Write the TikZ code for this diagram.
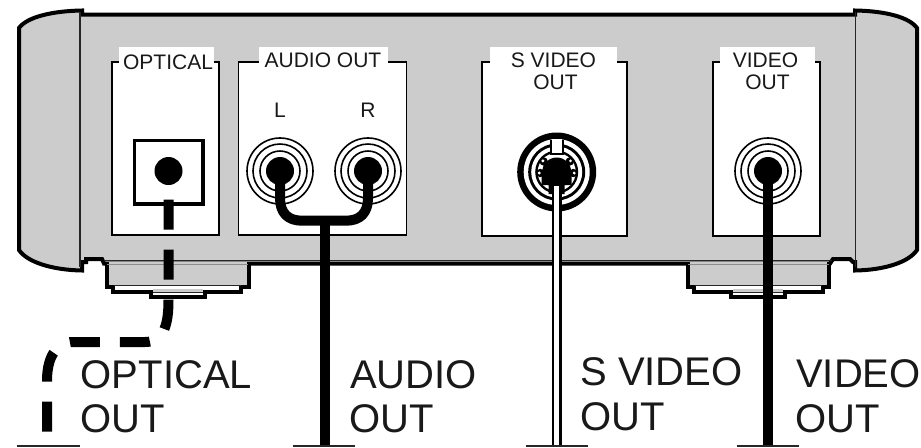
\documentclass[tikz,border=0pt]{standalone}
\usepackage{fontspec}
\setmainfont{Liberation Sans}
\definecolor{bodygray}{HTML}{CCCCCC}
\tikzset{
  bodyline/.style={draw=black,line width=3pt,line join=miter,fill=bodygray},
  thinline/.style={draw=black!85,line width=0.9pt},
  faintline/.style={draw=black!45,line width=0.7pt},
  panel/.style={draw=black,line width=1.4pt,fill=white},
  labelpatch/.style={fill=white,draw=none},
  smalltext/.style={font=\fontsize{15.75}{16.5}\selectfont,inner sep=0pt,align=center,text=black!90},
  bigtext/.style={font=\fontsize{30}{33.5}\selectfont,inner sep=0pt,anchor=base west,align=left,text=black!90},
  ringline/.style={draw=black,line width=1.2pt,fill=white},
  cable/.style={draw=black,line width=7.5pt},
  terminal/.style={fill=black!85,draw=none,inner sep=0pt,minimum width=46.5pt,minimum height=1.6pt},
  jackcore/.style={circle,fill=black,draw=none,inner sep=0pt,minimum size=21pt}
}
\newcommand{\rcajack}[2]{%
  \draw[ringline] (#1) circle[radius=33];
  \draw[ringline] (#1) circle[radius=27];
  \draw[ringline] (#1) circle[radius=20];
  \node[jackcore] (#2) at (#1) {};
}
\begin{document}
\begin{tikzpicture}[x=0.75pt,y=-0.75pt]
\useasboundingbox (0,0) rectangle (921,447);
% feet, behind the chassis line
\draw[bodyline,fill=white]
  (106.7,263.5) -- (106.7,287.3) -- (113,287.3) -- (113,292) -- (150.5,292) -- (150.5,297)
  -- (204.5,297) -- (204.5,292) -- (241,292) -- (241,287.3) -- (248.5,287.3) -- (248.5,263.5);
\draw[bodyline,fill=white]
  (687.7,263.5) -- (687.7,287.3) -- (693.7,287.3) -- (693.7,292) -- (731,292) -- (731,297)
  -- (785,297) -- (785,292) -- (822.5,292) -- (822.5,287.3) -- (829,287.3) -- (829,263.5);
% chassis
\draw[bodyline]
  (82,14.5) -- (82,10.5) .. controls (52,11) and (27,17) .. (19,28)
  -- (19,250) .. controls (27,262) and (52,270) .. (82,270.5)
  -- (82,262) -- (86,262) -- (86,259) -- (102,259) -- (104,263.5)
  -- (830,263.5) -- (833,259) -- (850,259) -- (853,262) -- (855,262)
  -- (855,270.5) .. controls (885,270) and (909,262) .. (917,250)
  -- (917,28) .. controls (909,17) and (885,11) .. (855,10.5) -- (855,14.5) -- cycle;
% foot interiors
\fill[bodygray] (108.7,261.5) rectangle (246.5,285.2);
\fill[bodygray] (152.5,288.5) rectangle (202.5,292);
\draw[faintline] (107,264) -- (248,264);
\draw[thinline] (114,285.7) -- (241,285.7);
\draw[thinline] (152.5,292.6) -- (202.5,292.6);
\fill[bodygray] (689.7,261.5) rectangle (827,285.2);
\fill[bodygray] (733,288.5) rectangle (783,292);
\draw[faintline] (688,264) -- (829,264);
\draw[thinline] (694.5,285.7) -- (822,285.7);
\draw[thinline] (733,292.6) -- (783,292.6);
\draw[thinline] (80,12) -- (80,267);
\draw[thinline] (855.7,12) -- (855.7,267);
\draw[thinline] (104,260.5) -- (832,260.5);
% panels
\draw[panel] (112,62) rectangle (219,235);
\draw[panel] (238.5,62) rectangle (406.5,235);
\draw[panel] (482,62) rectangle (627,236);
\draw[panel] (713,62) rectangle (820,236);
\fill[labelpatch] (119,47) rectangle (214,66);
\fill[labelpatch] (259,47) rectangle (388,66);
\fill[labelpatch] (490,47) rectangle (617,66);
\fill[labelpatch] (720,47) rectangle (815,66);
\node[smalltext] (lopt) at (168,62.5) {OPTICAL};
\node[smalltext] (laud) at (323,60) {AUDIO OUT};
\node[smalltext] (lsv) at (553.5,71) {S VIDEO\\\hspace*{3pt}OUT};
\node[smalltext] (lvid) at (765.5,71) {VIDEO\\\hspace*{3pt}OUT};
\node[smalltext] (ll) at (280,110.5) {L};
\node[smalltext] (lr) at (368,110.5) {R};
% optical jack
\draw[draw=black,line width=2.3pt,fill=white] (134.5,140.5) rectangle (203,204);
\node[jackcore] (jopt) at (168.5,171) {};
% RCA jacks
\rcajack{280,171}{jackL}
\rcajack{368,171}{jackR}
\rcajack{768,171}{jackV}
% S video jack
\coordinate (jackS) at (556.7,172);
\begin{scope}[shift={(jackS)}]
  \fill[black] (0,0) circle[radius=39.5];
  \fill[white] (0,0) circle[radius=33];
  \fill[black] (0,0) circle[radius=28.5];
  \fill[white] (0,0) circle[radius=25.5];
  \fill[black] (0,0) circle[radius=21.5];
  \fill[white] (0,0) circle[radius=19];
  \fill[black] (-7,-32) rectangle (7,-17);
  \fill[white] (-5,-33.5) rectangle (5,-19);
  \fill[black] (-15,4) -- (-15,13) -- (-8,13) -- (-8,22) -- (8,22) -- (8,13) -- (15,13) -- (15,4) -- cycle;
  \fill[black] (0,0) circle[radius=14.5];
  \foreach \px/\py in {-13/-10.5,13/-10.5,-16.5/1,16.5/1}{
    \fill[black] (\px,\py) circle[radius=4.2];
    \fill[white] (\px*1.06,\py*1.06) circle[radius=1.6];
  }
\end{scope}
% terminals
\node[terminal,minimum width=47pt] (tO) at (48.5,446) {};
\node[terminal] (tA) at (324,446) {};
\node[terminal] (tS) at (557,446) {};
\node[terminal] (tV) at (768,446) {};
% cables
\draw[cable,dash pattern=on 22.5pt off 15pt]
  (jopt.center) ++(0,28.5) -- (168.5,300) .. controls (168.5,322) and (165,342) .. (145,342)
  -- (71,342) .. controls (60,343) and (47,352) .. (47,381) -- (tO.north -| 47,0) ;
\draw[cable,line join=round] (jackL.center) -- (280,198) .. controls (280,213) and (288,220.7) .. (302,220.7)
  -- (346,220.7) .. controls (360,220.7) and (368,213) .. (368,198) -- (jackR.center);
\draw[cable] (324.5,220.7) -- (tA.north -| 324.5,0);
\draw[cable] (jackV.center) -- (tV.north);
\draw[draw=black,line width=7.5pt] (jackS)++(0,13) -- (tS.north -| jackS);
\draw[draw=white,line width=4pt] (jackS)++(0,14) -- (tS.north -| jackS);
% bottom labels
\node[bigtext] (bo1) at (80.5,388) {OPTICAL};
\node[bigtext] (bo2) at (80.5,432.5) {OUT};
\node[bigtext] (ba1) at (350,388) {AUDIO};
\node[bigtext] (ba2) at (349.5,432.5) {OUT};
\node[bigtext] (bs1) at (580,385) {S VIDEO};
\node[bigtext] (bs2) at (580,430) {OUT};
\node[bigtext] (bv1) at (796,387.5) {VIDEO};
\node[bigtext] (bv2) at (795,432.5) {OUT};
\end{tikzpicture}
\end{document}
